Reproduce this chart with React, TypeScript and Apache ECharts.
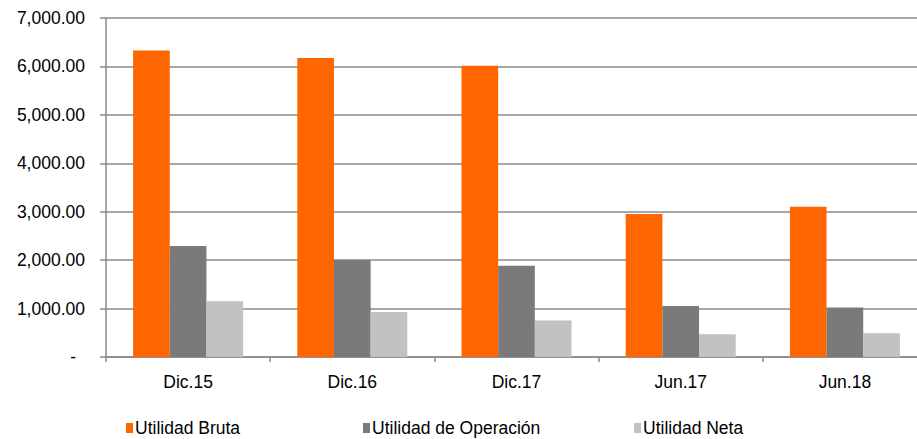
import React, { useEffect, useRef } from "react";
import * as echarts from "echarts";

const categories = ["Dic.15", "Dic.16", "Dic.17", "Jun.17", "Jun.18"];
const utilidadBruta = [6330, 6175, 6015, 2955, 3100];
const utilidadOperacion = [2290, 2005, 1885, 1055, 1020];
const utilidadNeta = [1150, 930, 755, 470, 490];
const seriesNames = ["Utilidad Bruta", "Utilidad de Operación", "Utilidad Neta"];
const colors = ["#FF6600", "#7A7A7A", "#C2C2C2"];

const FONT = "Liberation Sans, Arial, sans-serif";
const FS = 17.5;

export default function App() {
  const ref = useRef<HTMLDivElement>(null);
  useEffect(() => {
    if (!ref.current) return;
    const chart = echarts.init(ref.current, undefined, { renderer: "svg" });
    const data = [utilidadBruta, utilidadOperacion, utilidadNeta];
    const legendLefts = [121, 358, 629];
    chart.setOption({
      animation: false,
      backgroundColor: "#ffffff",
      textStyle: { fontFamily: FONT },
      grid: { left: 106, top: 18, right: 13, height: 339, containLabel: false },
      legend: seriesNames.map((n, i) => ({
        data: [n],
        left: legendLefts[i],
        top: 414,
        itemWidth: 7,
        itemHeight: 10,
        icon: "rect",
        textStyle: { fontSize: FS, color: "#000", fontFamily: FONT, padding: [0, 0, 0, -3] },
        selectedMode: false,
      })),
      xAxis: {
        type: "category",
        data: categories,
        axisLine: { lineStyle: { color: "#8a8a8a", width: 1.5 } },
        axisTick: { show: true, length: 5, lineStyle: { color: "#8a8a8a", width: 1.5 } },
        axisLabel: { color: "#000", fontSize: FS, fontFamily: FONT, margin: 16 },
      },
      yAxis: {
        type: "value",
        min: 0,
        max: 7000,
        interval: 1000,
        axisLine: { show: true, lineStyle: { color: "#8a8a8a", width: 1.5 } },
        axisTick: { show: true, length: 6, lineStyle: { color: "#8a8a8a", width: 1.5 } },
        splitLine: { lineStyle: { color: "#8a8a8a", width: 1.5 } },
        axisLabel: {
          color: "#000",
          fontSize: FS,
          fontFamily: FONT,
          margin: 21,
          formatter: (v: number) =>
            v === 0
              ? "{z|-}"
              : v.toLocaleString("en-US", { minimumFractionDigits: 2, maximumFractionDigits: 2 }),
          rich: { z: { fontSize: FS, color: "#000", fontFamily: FONT, padding: [0, 9, 0, 0] } },
        },
      },
      series: seriesNames.map((n, i) => ({
        name: n,
        type: "bar",
        data: data[i],
        barGap: "0%",
        barCategoryGap: "33%",
        itemStyle: { color: colors[i] },
      })),
    });
    return () => chart.dispose();
  }, []);
  return (
    <div style={{ width: 917, height: 439, position: "absolute", left: 0, top: 0, overflow: "hidden" }}>
      <div ref={ref} style={{ width: 940, height: 439 }} />
    </div>
  );
}
